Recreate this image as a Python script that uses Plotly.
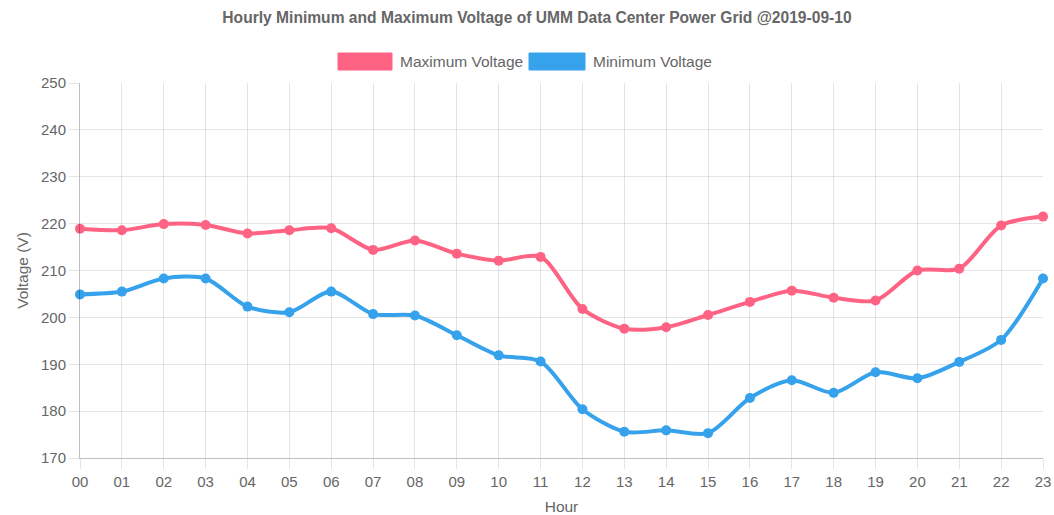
import plotly.graph_objects as go

hours = ["00","01","02","03","04","05","06","07","08","09","10","11",
         "12","13","14","15","16","17","18","19","20","21","22","23"]
max_voltage = [218.9, 218.6, 219.9, 219.7, 217.9, 218.6, 219.0, 214.4, 216.4, 213.6, 212.1, 212.9,
               201.8, 197.6, 197.9, 200.5, 203.3, 205.7, 204.2, 203.6, 210.0, 210.4, 219.6, 221.5]
min_voltage = [204.9, 205.5, 208.3, 208.3, 202.3, 201.1, 205.5, 200.7, 200.4, 196.2, 191.9, 190.6,
               180.4, 175.6, 175.9, 175.3, 182.8, 186.6, 183.9, 188.3, 187.0, 190.5, 195.2, 208.3]
series_names = ["Maximum Voltage", "Minimum Voltage"]
y_ticks = [170, 180, 190, 200, 210, 220, 230, 240, 250]

RED = "rgb(255,99,132)"
BLUE = "rgb(54,162,235)"
FONT = "Liberation Sans, Arial, Helvetica, sans-serif"
GRAY = "#666666"

fig = go.Figure()
for name, vals, col in [(series_names[0], max_voltage, RED), (series_names[1], min_voltage, BLUE)]:
    fig.add_trace(go.Scatter(
        x=list(range(len(hours))), y=vals, name=name, mode="lines+markers",
        line=dict(color=col, width=4, shape="spline", smoothing=0.8),
        marker=dict(color=col, size=10),
        cliponaxis=False, showlegend=False,
    ))

W, H = 1054, 515
L, R, T, B = 80, 11, 83, 57

fig.update_layout(
    width=W, height=H,
    margin=dict(l=L, r=R, t=T, b=B, autoexpand=False),
    paper_bgcolor="white", plot_bgcolor="white",
    font=dict(family=FONT, size=15, color=GRAY),
    title=dict(text="<b>Hourly Minimum and Maximum Voltage of UMM Data Center Power Grid @2019-09-10</b>",
               x=537 / W, xref="container", xanchor="center",
               y=1 - 18 / H, yref="container", yanchor="middle",
               font=dict(family=FONT, size=15.6, color=GRAY)),
    xaxis=dict(
        range=[0, 23], tickmode="array", tickvals=list(range(len(hours))), ticktext=hours,
        automargin=False,
        showgrid=True, gridcolor="rgba(0,0,0,0.1)", gridwidth=1,
        zeroline=False, showline=True, linecolor="rgba(0,0,0,0.25)", linewidth=1,
        ticks="outside", ticklen=10, tickcolor="rgba(0,0,0,0.1)",
        tickfont=dict(size=15, color=GRAY),
        title=dict(text="Hour", font=dict(size=15.5, color=GRAY), standoff=12),
    ),
    yaxis=dict(
        range=[170, 250], tickmode="array", tickvals=y_ticks,
        automargin=False,
        showgrid=True, gridcolor="rgba(0,0,0,0.1)", gridwidth=1,
        zeroline=False, showline=True, linecolor="rgba(0,0,0,0.25)", linewidth=1,
        ticks="outside", ticklen=10, tickcolor="rgba(0,0,0,0.1)",
        tickfont=dict(size=15, color=GRAY),
        title=dict(text="Voltage (V)", font=dict(size=15.5, color=GRAY), standoff=8),
    ),
)

# custom legend (Chart.js-style filled boxes)
legend_items = [(series_names[0], RED, 338, 392), (series_names[1], BLUE, 529, 585)]
for name, col, x0, x1 in legend_items:
    fig.add_shape(type="rect", xref="paper", yref="paper",
                  x0=(x0 - L) / (W - L - R), x1=(x1 - L) / (W - L - R),
                  y0=1 + (T - 70) / (H - T - B), y1=1 + (T - 53) / (H - T - B),
                  fillcolor=col, line=dict(color=col, width=1))
    fig.add_annotation(text=name, xref="paper", yref="paper",
                       x=(x1 + 6 - L) / (W - L - R), y=1 + (T - 61.5) / (H - T - B),
                       xanchor="left", yanchor="middle", showarrow=False,
                       font=dict(family=FONT, size=15.5, color=GRAY))

fig.write_html("out.html",
               config={"displayModeBar": False},
               post_script="document.body.style.margin='0';document.body.style.overflow='hidden';")
